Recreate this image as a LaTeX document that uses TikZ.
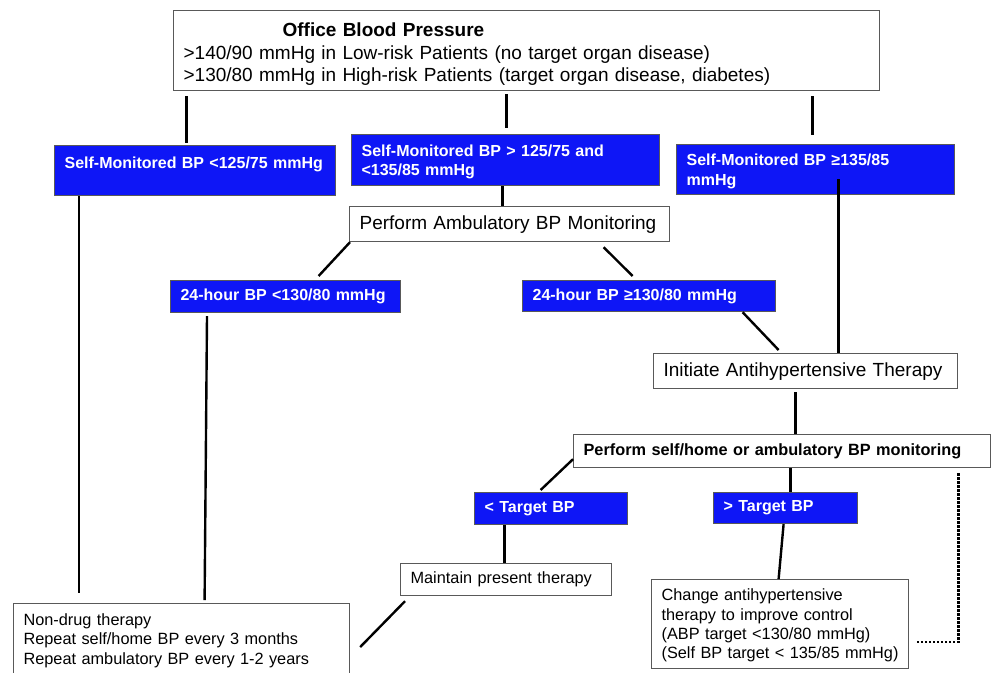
\documentclass[tikz,border=0pt]{standalone}
\usepackage{fontspec}
\setmainfont{Liberation Sans}
\definecolor{bpblue}{RGB}{14,22,246}
\begin{document}
\begin{tikzpicture}[x=1pt,y=-1pt,
	bigtext/.style={font=\fontsize{19}{22.5}\selectfont},
	smalltext/.style={font=\fontsize{16.3}{19.3}\selectfont},
	box/.style={draw=black!65,line width=1.2pt,fill=white,anchor=north west,inner xsep=10pt,inner ysep=0pt,align=left},
	bluebox/.style={box,fill=bpblue,text=white,font=\bfseries\fontsize{16}{19.5}\selectfont},
	link/.style={line width=2.4pt}]
	\useasboundingbox (0,0) rectangle (992,672);
	\node[box,bigtext,text width=686pt,minimum height=80pt] (office) at (173,10) {\rule{0pt}{21.5pt}\hspace*{99pt}\textbf{Office Blood Pressure}\\>140/90 mmHg in Low-risk Patients (no target organ disease)\\>130/80 mmHg in High-risk Patients (target organ disease, diabetes)};
	\node[bluebox,text width=261pt,minimum height=50pt] (smlow) at (54,145) {\rule{0pt}{15pt}Self-Monitored BP <125/75 mmHg\\\mbox{}};
	\node[bluebox,text width=288pt,minimum height=51pt] (smmid) at (351,134) {\rule{0pt}{15pt}Self-Monitored BP > 125/75 and\\<135/85 mmHg};
	\node[bluebox,text width=258pt,minimum height=50pt] (smhigh) at (676,144) {\rule{0pt}{15pt}Self-Monitored BP ≥135/85\\mmHg};
	\node[box,bigtext,text width=300pt,minimum height=35pt] (amb) at (349,206) {Perform Ambulatory BP Monitoring};
	\node[bluebox,text width=210pt,minimum height=32pt] (low24) at (170,280) {24-hour BP <130/80 mmHg};
	\node[bluebox,text width=233pt,minimum height=31pt] (high24) at (522,280) {24-hour BP ≥130/80 mmHg};
	\node[box,bigtext,text width=284pt,minimum height=35pt] (init) at (653,353) {Initiate Antihypertensive Therapy};
	\node[box,font=\bfseries\fontsize{16.3}{19.3}\selectfont,text width=397pt,minimum height=33pt] (monitor) at (573,434) {Perform self/home or ambulatory BP monitoring};
	\node[bluebox,text width=133pt,minimum height=32pt] (ltarget) at (474,492) {< Target BP};
	\node[bluebox,text width=124pt,minimum height=31pt] (gtarget) at (713,492) {> Target BP};
	\node[box,smalltext,text width=191pt,minimum height=32pt] (maintain) at (400,563) {Maintain present therapy};
	\node[box,smalltext,text width=237pt,minimum height=89pt] (change) at (651,579) {\rule{0pt}{15pt}Change antihypertensive\\therapy to improve control\\(ABP target <130/80 mmHg)\\(Self BP target < 135/85 mmHg)};
	\node[box,smalltext,text width=316pt,minimum height=72pt] (nodrug) at (13,603) {\rule{0pt}{14pt}Non-drug therapy\\Repeat self/home BP every 3 months\\Repeat ambulatory BP every 1-2 years};
	\draw[link,line width=3pt,shorten <=5pt,shorten >=2pt] ([xshift=-8.5pt]smlow.north |- office.south) -- ([xshift=-8.5pt]smlow.north);
	\draw[link,line width=3pt,shorten <=3pt,shorten >=6pt] ([xshift=1pt]smmid.north |- office.south) -- ([xshift=1pt]smmid.north);
	\draw[link,line width=3pt,shorten <=5pt,shorten >=9pt] ([xshift=-3pt]smhigh.north |- office.south) -- ([xshift=-3pt]smhigh.north);
	\draw[link] ([xshift=-3pt]smmid.south) -- ([xshift=-3pt]smmid.south |- amb.north);
	\draw[link] ([xshift=23pt,yshift=16pt]smhigh.south) -- ([xshift=23pt]smhigh.south |- init.north);
	\draw[link,shorten >=10pt] ([xshift=25pt]smlow.south west) -- ([xshift=25pt]smlow.south west |- nodrug.north);
	\draw[link] ([xshift=1pt]amb.south west) -- ([xshift=33pt,yshift=4pt]low24.north);
	\draw[link] ([xshift=94pt,yshift=-5pt]amb.south) -- ([xshift=-16.5pt,yshift=4pt]high24.north);
	\draw[link] ([xshift=93.5pt]high24.south) -- ([xshift=-27pt,yshift=3pt]init.north);
	\draw[link,shorten <=3pt] ([xshift=-10pt]init.south) -- ([xshift=-10pt]init.south |- monitor.north);
	\draw[link] ([yshift=9pt]monitor.south west) -- ([xshift=-10.5pt,yshift=2pt]ltarget.north);
	\draw[link] ([xshift=5pt]gtarget.north |- monitor.south) -- ([xshift=5pt]gtarget.north);
	\draw[link] ([xshift=-46.5pt]ltarget.south) -- ([xshift=-46.5pt]ltarget.south |- maintain.north);
	\draw[link] ([xshift=5pt,yshift=-5pt]maintain.south west) -- ([xshift=10pt,yshift=-44pt]nodrug.north east);
	\draw[link] ([xshift=-2pt]gtarget.south) -- ([xshift=-1.5pt]change.north);
	\draw[link] ([xshift=37pt,yshift=-3pt]low24.south west) -- ([xshift=23pt,yshift=3pt]nodrug.north);
	\draw[line width=2.6pt,dash pattern=on 2.4pt off 1.6pt] ([xshift=-33pt,yshift=-5pt]monitor.south east) |- ([xshift=8pt,yshift=-18pt]change.east);
\end{tikzpicture}
\end{document}
